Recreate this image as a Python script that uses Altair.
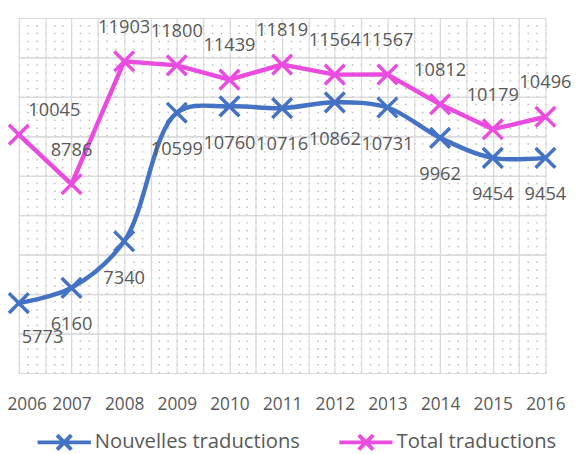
import altair as alt
import pandas as pd

years = [2006, 2007, 2008, 2009, 2010, 2011, 2012, 2013, 2014, 2015, 2016]
nouvelles = [5773, 6160, 7340, 10599, 10760, 10716, 10862, 10731, 9962, 9454, 9454]
total = [10045, 8786, 11903, 11800, 11439, 11819, 11564, 11567, 10812, 10179, 10496]
series_names = ["Nouvelles traductions", "Total traductions"]
colors = ["#4472C4", "#EA4CE0"]

df = pd.DataFrame({
    "year": years + years,
    "value": nouvelles + total,
    "series": [series_names[0]] * len(years) + [series_names[1]] * len(years),
})

W, H = 534, 360
GRID = "#D9D9D9"
DOTS = "#BDBDBD"
TXT = "#595959"
FONT = "Open Sans"
XMARK = "M-1,-1L1,1M-1,1L1,-1"
LEG_SYMBOL = "M-1,0L1,0M-0.27,-0.27L0.27,0.27M-0.27,0.27L0.27,-0.27"

y_min, y_max = 4000, 13000
x_scale = alt.Scale(domain=[years[0], years[-1]], nice=False, zero=False)
y_scale = alt.Scale(domain=[y_min, y_max], nice=False, zero=False)
color_scale = alt.Scale(domain=series_names, range=colors)

half_ticks = [years[0] + i * 0.5 for i in range(2 * (years[-1] - years[0]) + 1)]
sixth_ticks = [years[0] + i / 6 for i in range(6 * (years[-1] - years[0]) + 1)]
y_ticks = list(range(y_min, y_max + 1, 1000))

base = alt.Chart(df)

X0 = alt.X("year:Q", scale=x_scale, axis=None)
Y0 = alt.Y("value:Q", scale=y_scale, axis=None)

# dotted minor grid (top x axis) + solid horizontal grid (right y axis)
minor = base.mark_point(opacity=0).encode(
    x=alt.X("year:Q", scale=x_scale, title=None,
            axis=alt.Axis(orient="top", values=sixth_ticks, labels=False, ticks=False,
                          domain=False, grid=True, gridDash=[1.5, 6.5], gridColor=DOTS,
                          gridWidth=1.5)),
    y=alt.Y("value:Q", scale=y_scale, title=None,
            axis=alt.Axis(orient="right", values=y_ticks, labels=False, ticks=False,
                          domain=False, grid=True, gridColor=GRID, gridWidth=1.2)),
)

# solid half-year grid + year labels (bottom x axis) + horizontal grid (left y axis)
major = base.mark_point(opacity=0).encode(
    x=alt.X("year:Q", scale=x_scale, title=None,
            axis=alt.Axis(orient="bottom", values=half_ticks,
                          labelExpr="datum.value % 1 == 0 ? format(datum.value, 'd') : ''",
                          ticks=False, domain=False, grid=True, gridColor=GRID, gridWidth=1.2,
                          labelFont=FONT, labelFontSize=17.5, labelColor=TXT, labelPadding=23,
                          labelOffset={"condition": {"test": "datum.value == 2006", "value": 8},
                                       "value": 0},
                          labelFlush=False, labelOverlap=False, labelBound=False)),
    y=alt.Y("value:Q", scale=y_scale, title=None,
            axis=alt.Axis(orient="left", values=y_ticks, labels=False, ticks=False,
                          domain=False, grid=True, gridColor=GRID, gridWidth=1.2)),
)

color_enc = alt.Color(
    "series:N", scale=color_scale,
    legend=alt.Legend(title=None, orient="none", legendX=17, legendY=401,
                      direction="horizontal", symbolType=LEG_SYMBOL, symbolSize=2916,
                      symbolStrokeWidth=4, labelFont=FONT, labelFontSize=20.5,
                      labelColor=TXT, labelOffset=2, columnPadding=31, labelLimit=400),
)
color_noleg = alt.Color("series:N", scale=color_scale, legend=None)

blue_line = base.transform_filter(alt.datum.series == series_names[0]).mark_line(
    strokeWidth=4.5, interpolate="catmull-rom").encode(x=X0, y=Y0, color=color_enc)
pink_line = base.transform_filter(alt.datum.series == series_names[1]).mark_line(
    strokeWidth=4.5).encode(x=X0, y=Y0, color=color_enc)

points = base.mark_point(shape=XMARK, size=400, strokeWidth=3.5, filled=False,
                         opacity=1).encode(x=X0, y=Y0, color=color_noleg)

text_kw = dict(font=FONT, fontSize=18.5, color=TXT)
txt = alt.Text("value:Q", format="d")

lab_n = base.transform_filter(
    (alt.datum.series == series_names[0]) & (alt.datum.year > years[0])
).mark_text(dy=37, **text_kw).encode(x=X0, y=Y0, text=txt)
lab_t = base.transform_filter(
    (alt.datum.series == series_names[1]) & (alt.datum.year > years[0])
).mark_text(dy=-35, **text_kw).encode(x=X0, y=Y0, text=txt)
lab_n0 = base.transform_filter(
    (alt.datum.series == series_names[0]) & (alt.datum.year == years[0])
).mark_text(dx=24, dy=35, **text_kw).encode(x=X0, y=Y0, text=txt)
lab_t0 = base.transform_filter(
    (alt.datum.series == series_names[1]) & (alt.datum.year == years[0])
).mark_text(dx=36, dy=-25, **text_kw).encode(x=X0, y=Y0, text=txt)

chart = alt.layer(
    minor, major, blue_line, pink_line, points, lab_n, lab_t, lab_n0, lab_t0
).properties(
    width=W, height=H,
    autosize=alt.AutoSizeParams(type="none"),
    padding={"left": 11, "top": 7, "right": 30, "bottom": 79},
    background="white",
).configure_view(stroke=None)

chart.save("out.html", embed_options={"renderer": "svg", "actions": False})
